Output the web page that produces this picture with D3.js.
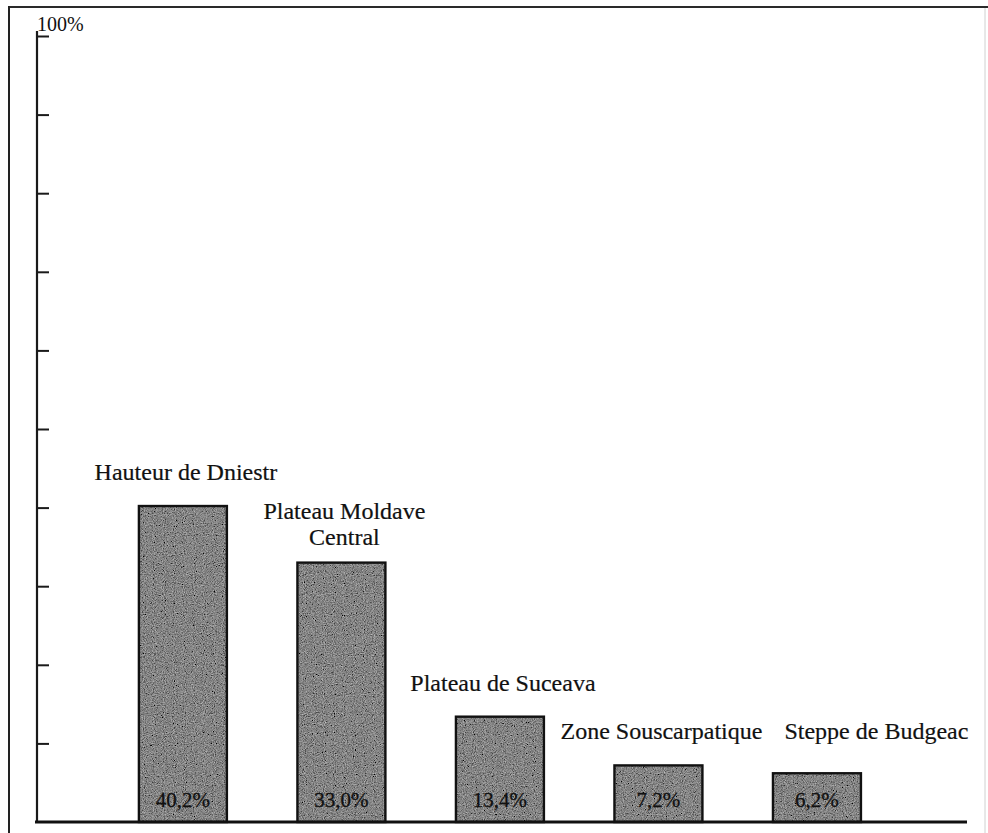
<!DOCTYPE html>
<html>
<head>
<meta charset="utf-8">
<script src="https://cdn.jsdelivr.net/npm/d3@7"></script>
<style>
  html, body { margin: 0; padding: 0; background: #fff; }
  svg { display: block; }
  text { font-family: "Liberation Serif", "Times New Roman", serif; }
</style>
</head>
<body>
<svg id="chart" width="988" height="833"></svg>
<script>
// ---- data ----
const categories = ["Hauteur de Dniestr", "Plateau Moldave\nCentral", "Plateau de Suceava", "Zone Souscarpatique", "Steppe de Budgeac"];
const values = [40.2, 33.0, 13.4, 7.2, 6.2];
const valueLabels = ["40,2%", "33,0%", "13,4%", "7,2%", "6,2%"];
const yTicks = [0, 10, 20, 30, 40, 50, 60, 70, 80, 90, 100];
const yTickLabels = [{ v: 100, t: "100%" }];

// ---- layout ----
const W = 988, H = 833;
const axisX = 37, plotRight = 967, baseY = 822, topY = 36;
const catFont = 24, valFont = 21;

const svg = d3.select("#chart");

// grain filter for the scanned-grey bars
const defs = svg.append("defs");
const f = defs.append("filter").attr("id", "grain")
  .attr("x", 0).attr("y", 0).attr("width", "100%").attr("height", "100%");
f.append("feTurbulence").attr("type", "fractalNoise").attr("baseFrequency", 0.9)
  .attr("numOctaves", 2).attr("seed", 7).attr("result", "noise");
f.append("feColorMatrix").attr("in", "noise").attr("type", "matrix")
  .attr("values", "0.33 0.33 0.33 0 0  0.33 0.33 0.33 0 0  0.33 0.33 0.33 0 0  0 0 0 0 1")
  .attr("result", "gray");
f.append("feComposite").attr("in", "SourceGraphic").attr("in2", "gray")
  .attr("operator", "arithmetic").attr("k1", 0).attr("k2", 1).attr("k3", 1.2).attr("k4", -0.6)
  .attr("result", "mix");
f.append("feComposite").attr("in", "mix").attr("in2", "SourceGraphic").attr("operator", "in");

svg.append("rect").attr("width", W).attr("height", H).attr("fill", "#fff");

// page frame
svg.append("line").attr("x1", 9).attr("x2", W).attr("y1", 7).attr("y2", 7)
  .attr("stroke", "#2a2a2a").attr("stroke-width", 2.2);
svg.append("line").attr("x1", 9).attr("x2", 9).attr("y1", 6).attr("y2", H)
  .attr("stroke", "#222").attr("stroke-width", 2);
svg.append("line").attr("x1", 985).attr("x2", 985).attr("y1", 8).attr("y2", H)
  .attr("stroke", "#d0d0d0").attr("stroke-width", 1);

// scales
const y = d3.scaleLinear().domain([0, 100]).range([baseY, topY]);
const x = d3.scaleBand().domain(categories).range([axisX, plotRight])
  .paddingInner(0.445).paddingOuter(0.656).align(0.49);
const barW = x.bandwidth();
const cx = c => x(c) + barW / 2;

// y axis
const yAxis = d3.axisRight(y).tickValues(yTicks.filter(v => v > 0)).tickSize(12).tickSizeOuter(0).tickFormat("");
const gy = svg.append("g").attr("transform", `translate(${axisX},0)`).call(yAxis);
gy.select(".domain").remove();
gy.selectAll(".tick line").attr("stroke", "#1a1a1a").attr("stroke-width", 2);
svg.append("line").attr("x1", axisX).attr("x2", axisX).attr("y1", y(100) - 5).attr("y2", baseY)
  .attr("stroke", "#1a1a1a").attr("stroke-width", 2.2);

svg.selectAll("text.ylab").data(yTickLabels).join("text").attr("class", "ylab")
  .attr("x", axisX).attr("y", d => y(d.v) - 5)
  .attr("font-size", 20).attr("fill", "#111").text(d => d.t);

// bars
const data = categories.map((c, i) => ({ c, v: values[i], lab: valueLabels[i] }));
const bars = svg.append("g");
bars.selectAll("rect.fill").data(data).join("rect").attr("class", "fill")
  .attr("x", d => x(d.c)).attr("width", barW)
  .attr("y", d => y(d.v)).attr("height", d => baseY - y(d.v))
  .attr("fill", "#858585").attr("filter", "url(#grain)");
bars.selectAll("rect.edge").data(data).join("rect").attr("class", "edge")
  .attr("x", d => x(d.c)).attr("width", barW)
  .attr("y", d => y(d.v)).attr("height", d => baseY - y(d.v))
  .attr("fill", "none").attr("stroke", "#111").attr("stroke-width", 2.4);

// value labels inside bars
svg.selectAll("text.val").data(data).join("text").attr("class", "val")
  .attr("x", d => cx(d.c)).attr("y", baseY - 15)
  .attr("text-anchor", "middle").attr("font-size", valFont).attr("fill", "#111")
  .attr("stroke", "#111").attr("stroke-width", 0.3)
  .text(d => d.lab);

// x axis baseline
svg.append("line").attr("x1", axisX - 2).attr("x2", plotRight).attr("y1", baseY).attr("y2", baseY)
  .attr("stroke", "#111").attr("stroke-width", 3);

// category labels above bars, dodging previous bar / label
const lineH = 26, gap = 22, shift = 3;
let prev = null;
data.forEach((d, i) => {
  const lines = d.c.split("\n");
  const above = lines.length > 1 ? 18 : 26;
  const g = svg.append("g");
  const t = g.append("text").attr("font-size", catFont).attr("fill", "#111")
    .attr("stroke", "#111").attr("stroke-width", 0.2).attr("text-anchor", "middle");
  lines.forEach((ln, k) => t.append("tspan").attr("x", 0).attr("dy", k === 0 ? 0 : lineH).text(ln));
  const w = t.node().getBBox().width;
  let baseline = y(d.v) - above - (lines.length - 1) * lineH;
  let left = cx(d.c) + shift - w / 2;
  const prevBarRight = i > 0 ? x(data[i - 1].c) + barW : -Infinity;
  left = Math.max(left, prevBarRight + 12);
  if (prev && baseline - catFont < prev.bottom && baseline > prev.top) {
    if (left < prev.right + gap) left = prev.right + gap;
    baseline = prev.baseline;
  }
  g.attr("transform", `translate(${left + w / 2},${baseline})`);
  prev = { right: left + w, top: baseline - catFont, bottom: baseline + (lines.length - 1) * lineH + 6, baseline };
});
</script>
</body>
</html>
